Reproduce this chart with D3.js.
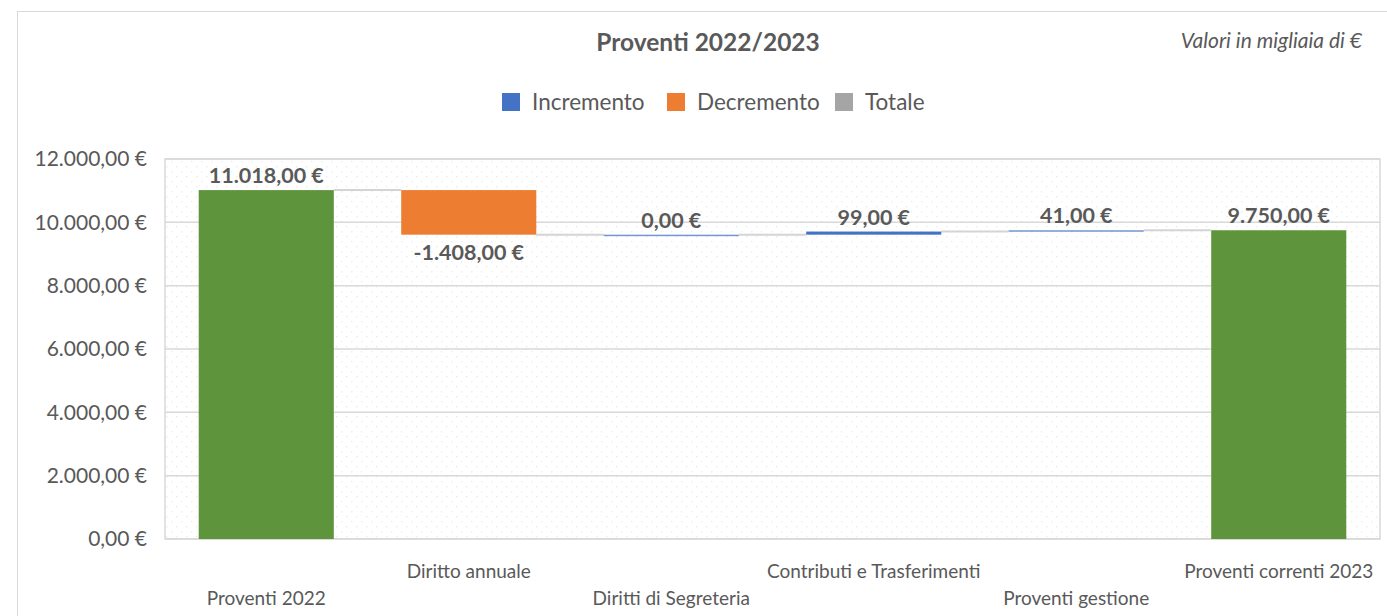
<!DOCTYPE html>
<html>
<head>
  <meta charset="utf-8">
  <title>Proventi 2022/2023</title>
  <style>
    body { margin: 0; background: #fff; font-family: Lato, "Open Sans", sans-serif; }
    svg { display: block; }
  </style>
</head>
<body>
  <svg id="chart" width="1387" height="616"></svg>
  <script src="https://d3js.org/d3.v7.min.js"></script>
  <script>
    // dati (migliaia di euro)
    const categories = ["Proventi 2022", "Diritto annuale", "Diritti di Segreteria",
                        "Contributi e Trasferimenti", "Proventi gestione", "Proventi correnti 2023"];
    const values = [11018, -1408, 0, 99, 41, 9750];
    const kinds = ["total", "delta", "delta", "delta", "delta", "total"];
    const yTicks = [0, 2000, 4000, 6000, 8000, 10000, 12000];
    const legendItems = ["Incremento", "Decremento", "Totale"];

    const colors = { up: "#4472c4", down: "#ed7d31", total: "#5e943b", legendTotal: "#a5a5a5" };
    const textCol = "#595959";

    const fmt = v => {
      const s = Math.abs(v).toFixed(2).split(".");
      const int = s[0].replace(/\B(?=(\d{3})+(?!\d))/g, ".");
      return (v < 0 ? "-" : "") + int + "," + s[1] + " €";
    };

    // calcolo della cascata
    let run = 0;
    const steps = categories.map((c, i) => {
      let start, end;
      if (kinds[i] === "total") { start = 0; end = values[i]; run = values[i]; }
      else { start = run; end = run + values[i]; run = end; }
      return { cat: c, value: values[i], kind: kinds[i], start, end, i };
    });

    const svg = d3.select("#chart");

    // bordo esterno
    svg.append("rect").attr("x", 17.5).attr("y", 11.5).attr("width", 1400).attr("height", 700)
      .attr("fill", "#fff").attr("stroke", "#d9d9d9");

    const pLeft = 165, pRight = 1380, pTop = 159, pBottom = 539;
    const x = d3.scaleBand().domain(categories).range([pLeft, pRight]).paddingInner(0.333).paddingOuter(0.1665);
    const y = d3.scaleLinear().domain([0, 12000]).range([pBottom, pTop]);

    // sfondo a puntini
    const defs = svg.append("defs");
    const pat = defs.append("pattern").attr("id", "dots").attr("patternUnits", "userSpaceOnUse")
      .attr("width", 10).attr("height", 10);
    pat.append("rect").attr("width", 10).attr("height", 10).attr("fill", "#fff");
    pat.append("rect").attr("x", 1).attr("y", 1).attr("width", 1.4).attr("height", 1.4).attr("fill", "#ececec");
    pat.append("rect").attr("x", 6).attr("y", 6).attr("width", 1.4).attr("height", 1.4).attr("fill", "#ececec");

    svg.append("rect").attr("x", pLeft).attr("y", pTop).attr("width", pRight - pLeft).attr("height", pBottom - pTop)
      .attr("fill", "url(#dots)").attr("stroke", "#d9d9d9").attr("stroke-width", 1.5);

    // griglia
    svg.append("g").selectAll("line").data(yTicks).join("line")
      .attr("x1", pLeft).attr("x2", pRight)
      .attr("y1", d => y(d)).attr("y2", d => y(d))
      .attr("stroke", "#d9d9d9").attr("stroke-width", 1.5);

    // asse y
    const yAxis = svg.append("g").attr("transform", `translate(${pLeft},0)`)
      .call(d3.axisLeft(y).tickValues(yTicks).tickFormat(fmt).tickSize(0).tickPadding(18));
    yAxis.select(".domain").remove();
    yAxis.selectAll("text").attr("font-family", "Lato, sans-serif").attr("font-size", 21)
      .attr("fill", textCol);

    // connettori
    svg.append("g").selectAll("line").data(steps.slice(0, -1)).join("line")
      .attr("x1", d => x(d.cat) + x.bandwidth())
      .attr("x2", d => x(categories[d.i + 1]))
      .attr("y1", d => y(d.end)).attr("y2", d => y(d.end))
      .attr("stroke", "#d4d4d4").attr("stroke-width", 2);

    // barre
    svg.append("g").selectAll("rect").data(steps).join("rect")
      .attr("x", d => x(d.cat))
      .attr("width", x.bandwidth())
      .attr("y", d => Math.min(y(d.start), y(d.end)))
      .attr("height", d => Math.max(1.5, Math.abs(y(d.start) - y(d.end))))
      .attr("fill", d => d.kind === "total" ? colors.total : (d.value < 0 ? colors.down : colors.up))
      .attr("opacity", d => d.kind === "delta" && d.value >= 0 && d.value < 60 ? 0.75 : 1);

    // etichette valori
    svg.append("g").selectAll("text").data(steps).join("text")
      .attr("x", d => x(d.cat) + x.bandwidth() / 2)
      .attr("y", d => d.value < 0 ? y(d.end) + 25 : y(Math.max(d.start, d.end)) - 7)
      .attr("text-anchor", "middle")
      .attr("font-size", 21.5).attr("font-weight", "bold").attr("fill", textCol)
      .text(d => fmt(d.value));

    // etichette categorie (sfalsate)
    svg.append("g").selectAll("text").data(categories).join("text")
      .attr("x", d => x(d) + x.bandwidth() / 2)
      .attr("y", (d, i) => i % 2 === 0 ? 605 : 578)
      .attr("text-anchor", "middle")
      .attr("font-size", 19).attr("fill", textCol)
      .text(d => d);

    // titolo
    svg.append("text").attr("x", 708).attr("y", 51).attr("text-anchor", "middle")
      .attr("font-size", 24.5).attr("font-weight", "bold").attr("fill", textCol)
      .text("Proventi 2022/2023");

    svg.append("text").attr("x", 1362).attr("y", 48).attr("text-anchor", "end")
      .attr("font-size", 21).attr("font-style", "italic").attr("fill", textCol)
      .text("Valori in migliaia di €");

    // legenda
    const legendCols = [colors.up, colors.down, colors.legendTotal];
    const legendX = [502, 667, 835];
    const lg = svg.append("g").selectAll("g").data(legendItems).join("g")
      .attr("transform", (d, i) => `translate(${legendX[i]},93)`);
    lg.append("rect").attr("width", 18).attr("height", 18).attr("fill", (d, i) => legendCols[i]);
    lg.append("text").attr("x", 30).attr("y", 17).attr("font-size", 22.5).attr("fill", textCol).text(d => d);
  </script>
</body>
</html>
